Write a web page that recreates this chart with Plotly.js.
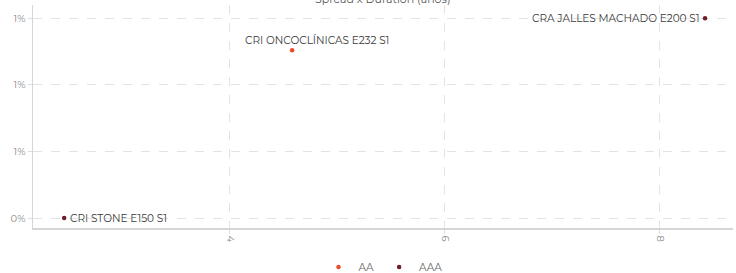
<!DOCTYPE html>
<html><head><meta charset="utf-8">
<script src="https://cdn.plot.ly/plotly-3.0.1.min.js"></script>
<style>html,body{margin:0;padding:0;background:#fff}#chart{width:736px;height:273px}</style>
</head><body><div id="chart"></div>
<script>
const names = ["CRI STONE E150 S1", "CRI ONCOCLÍNICAS E232 S1", "CRA JALLES MACHADO E200 S1"];
const ratings = ["AAA", "AA", "AAA"];
const duration = [2.46, 4.58, 8.42];
const spread = [0.0, 1.26, 1.5];
const seriesNames = ["AA", "AAA"];
const seriesColors = ["#ee4a2c", "#6e1f28"];
const yTickVals = [0, 0.5, 1.0, 1.5];
const yTickText = ["0%", "1%", "1%", "1%"];
const xTickVals = [4, 6, 8];
const xTickText = ["4", "6", "8"];

const font = "Montserrat, 'Open Sans', sans-serif";
// label placement styles (not data)
const labelStyle = {
  "CRI STONE E150 S1": {xanchor: "left", yanchor: "middle", xshift: 4, yshift: 0},
  "CRI ONCOCLÍNICAS E232 S1": {xanchor: "center", yanchor: "bottom", xshift: 25, yshift: 1},
  "CRA JALLES MACHADO E200 S1": {xanchor: "right", yanchor: "middle", xshift: -4, yshift: 0}
};

const traces = seriesNames.map((s, k) => {
  const idx = ratings.map((r, i) => r === s ? i : -1).filter(i => i >= 0);
  return {
    type: "scatter", mode: "markers", name: s,
    x: idx.map(i => duration[i]), y: idx.map(i => spread[i]),
    marker: {color: seriesColors[k], size: 4.5},
    cliponaxis: false
  };
});

const annotations = names.map((n, i) => Object.assign({
  x: duration[i], y: spread[i], xref: "x", yref: "y", text: n, showarrow: false,
  font: {family: font, size: 10.5, color: "#3a3a3a"}
}, labelStyle[n]));

const layout = {
  width: 736, height: 273,
  margin: {l: 33, r: 3, t: 5, b: 45},
  paper_bgcolor: "#fff", plot_bgcolor: "#fff",
  font: {family: font, size: 10, color: "#888"},
  title: {text: "Spread x Duration (anos)", font: {family: font, size: 11, color: "#555"}, x: 0.52, xanchor: "center", y: 0.99, yref: "container", yanchor: "bottom", automargin: false},
  xaxis: {range: [2.17, 8.68], tickvals: xTickVals, ticktext: xTickText, tickangle: 90, automargin: false,
    showgrid: true, gridcolor: "#e3e3e3", griddash: "dash", zeroline: false,
    showline: true, linecolor: "#d6d6d6", linewidth: 1.5, ticks: "outside", ticklen: 4, tickcolor: "#ddd",
    tickfont: {size: 10, color: "#888"}},
  yaxis: {range: [-0.075, 1.6], tickvals: yTickVals, ticktext: yTickText, automargin: false,
    showgrid: true, gridcolor: "#e3e3e3", griddash: "dash", zeroline: false,
    showline: true, linecolor: "#d6d6d6", linewidth: 1.5, ticks: "outside", ticklen: 4, tickcolor: "#ddd",
    tickfont: {size: 10, color: "#888"}},
  legend: {orientation: "h", x: 0.5, xanchor: "center", xref: "paper", y: 0.022, yref: "container", yanchor: "middle",
    font: {family: font, size: 10.5, color: "#666"}, itemwidth: 30},
  annotations: annotations,
  showlegend: true
};
Plotly.newPlot("chart", traces, layout, {displayModeBar: false, staticPlot: true});
</script></body></html>
